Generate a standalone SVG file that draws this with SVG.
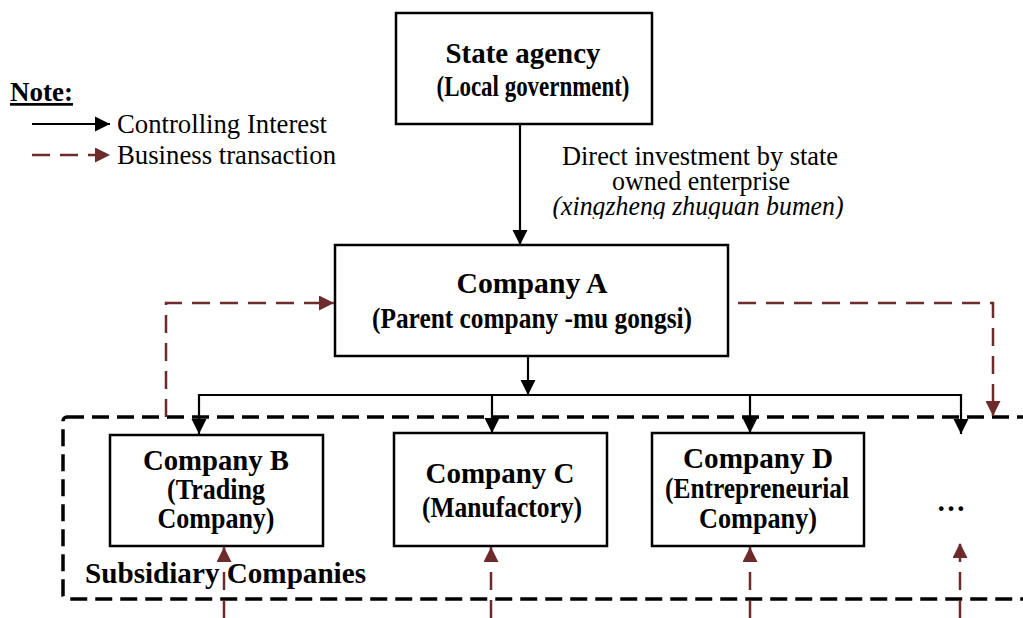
<svg xmlns="http://www.w3.org/2000/svg" width="1023" height="618" viewBox="0 0 1023 618">
  <style>
    .box { fill: #fff; stroke: #000; stroke-width: 2.5; }
    .t { font-family: "Liberation Serif", "Times New Roman", serif; fill: #000; }
    .b { font-weight: bold; font-size: 29px; text-anchor: middle; }
    .r { font-size: 26.5px; }
    .ctrl { fill: none; stroke: #000; stroke-width: 2.2; }
    .biz { fill: none; stroke: #6d2b2b; stroke-width: 2.5; stroke-dasharray: 18 10; }
    .group { fill: none; stroke: #000; stroke-width: 3.5; stroke-dasharray: 17 8; }
  </style>
  <defs>
    <marker id="ah" viewBox="0 0 10 10" refX="10" refY="5" markerWidth="7" markerHeight="7" markerUnits="strokeWidth" orient="auto">
      <path d="M0,0 L10,5 L0,10 Z" fill="#000"/>
    </marker>
    <marker id="ahr" viewBox="0 0 10 10" refX="10" refY="5" markerWidth="6" markerHeight="6" markerUnits="strokeWidth" orient="auto">
      <path d="M0,0 L10,5 L0,10 Z" fill="#6d2b2b"/>
    </marker>
    <clipPath id="labelClip">
      <rect x="500" y="130" width="400" height="89"/>
    </clipPath>
  </defs>

  <!-- legend -->
  <g id="legend">
    <text class="t" x="10" y="101" font-size="27" font-weight="bold" text-decoration="underline">Note:</text>
    <line x1="32" y1="124" x2="110" y2="124" class="ctrl" marker-end="url(#ah)"/>
    <text class="t r" x="117" y="133" textLength="210" lengthAdjust="spacingAndGlyphs">Controlling Interest</text>
    <line x1="32" y1="155" x2="110" y2="155" class="biz" marker-end="url(#ahr)"/>
    <text class="t r" x="117" y="164" textLength="219" lengthAdjust="spacingAndGlyphs">Business transaction</text>
  </g>

  <!-- subsidiary group frame -->
  <g id="subsidiaries">
    <rect x="63" y="417" width="1000" height="182" rx="4" class="group"/>
    <text class="t" x="85" y="583" font-size="29" font-weight="bold" textLength="281" lengthAdjust="spacingAndGlyphs">Subsidiary Companies</text>
  </g>

  <g id="state-agency">
    <rect x="396" y="13" width="256" height="111" class="box"/>
    <text class="t b" x="523" y="63" textLength="155" lengthAdjust="spacingAndGlyphs">State agency</text>
    <text class="t b" x="533" y="96" textLength="193" lengthAdjust="spacingAndGlyphs">(Local government)</text>
  </g>

  <g id="company-a">
    <rect x="335" y="245" width="393" height="111" class="box"/>
    <text class="t b" x="532" y="293" textLength="151" lengthAdjust="spacingAndGlyphs">Company A</text>
    <text class="t b" x="532" y="328" textLength="320" lengthAdjust="spacingAndGlyphs">(Parent company -mu gongsi)</text>
  </g>

  <g id="company-b">
    <rect x="110" y="435" width="213" height="111" class="box"/>
    <text class="t b" x="216" y="470" textLength="146" lengthAdjust="spacingAndGlyphs">Company B</text>
    <text class="t b" x="216" y="499" textLength="98" lengthAdjust="spacingAndGlyphs">(Trading</text>
    <text class="t b" x="216" y="528" textLength="117" lengthAdjust="spacingAndGlyphs">Company)</text>
  </g>

  <g id="company-c">
    <rect x="394" y="433" width="213" height="113" class="box"/>
    <text class="t b" x="500" y="483" textLength="149" lengthAdjust="spacingAndGlyphs">Company C</text>
    <text class="t b" x="502" y="517" textLength="160" lengthAdjust="spacingAndGlyphs">(Manufactory)</text>
  </g>

  <g id="company-d">
    <rect x="652" y="433" width="212" height="113" class="box"/>
    <text class="t b" x="758" y="468" textLength="150" lengthAdjust="spacingAndGlyphs">Company D</text>
    <text class="t b" x="757" y="498" textLength="184" lengthAdjust="spacingAndGlyphs">(Entrepreneurial</text>
    <text class="t b" x="758" y="528" textLength="118" lengthAdjust="spacingAndGlyphs">Company)</text>
  </g>

  <g id="more">
    <text class="t b" x="951" y="511">…</text>
  </g>

  <!-- connectors -->
  <g id="connectors">
    <!-- controlling interest -->
    <line x1="520" y1="124" x2="520" y2="245" class="ctrl" marker-end="url(#ah)"/>
    <line x1="528" y1="356" x2="528" y2="395" class="ctrl" marker-end="url(#ah)"/>
    <line x1="199" y1="395" x2="961" y2="395" class="ctrl"/>
    <line x1="199" y1="394" x2="199" y2="434" class="ctrl" marker-end="url(#ah)"/>
    <line x1="492" y1="394" x2="492" y2="433" class="ctrl" marker-end="url(#ah)"/>
    <line x1="750" y1="394" x2="750" y2="433" class="ctrl" marker-end="url(#ah)"/>
    <line x1="961" y1="394" x2="961" y2="434" class="ctrl" marker-end="url(#ah)"/>

    <!-- business transactions -->
    <path d="M166,417 V303 H334" class="biz" marker-end="url(#ahr)"/>
    <path d="M738,303 H993 V416" class="biz" marker-end="url(#ahr)"/>
    <line x1="224" y1="618" x2="224" y2="547" class="biz" marker-end="url(#ahr)"/>
    <line x1="491" y1="618" x2="491" y2="547" class="biz" marker-end="url(#ahr)"/>
    <line x1="750" y1="618" x2="750" y2="547" class="biz" marker-end="url(#ahr)"/>
    <line x1="960" y1="618" x2="960" y2="543" class="biz" marker-end="url(#ahr)"/>

    <g clip-path="url(#labelClip)">
      <text class="t r" x="700" y="165" text-anchor="middle" textLength="276" lengthAdjust="spacingAndGlyphs">Direct investment by state</text>
      <text class="t r" x="701" y="190" text-anchor="middle" textLength="178" lengthAdjust="spacingAndGlyphs">owned enterprise</text>
      <text class="t r" x="698" y="215" text-anchor="middle" font-style="italic" textLength="291" lengthAdjust="spacingAndGlyphs">(xingzheng zhuguan bumen)</text>
    </g>
  </g>
</svg>
